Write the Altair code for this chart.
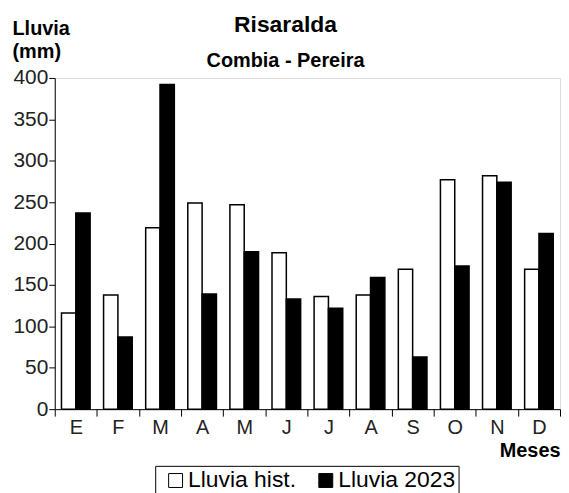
import altair as alt
import pandas as pd

meses = ["E", "F", "M", "A", "M", "J", "J", "A", "S", "O", "N", "D"]
lluvia_hist = [116, 138, 219, 249, 247, 189, 136, 138, 169, 277, 282, 169]
lluvia_2023 = [237, 87, 392, 139, 190, 133, 122, 159, 63, 173, 274, 212]
series = ["Lluvia hist.", "Lluvia 2023"]
y_ticks = [0, 50, 100, 150, 200, 250, 300, 350, 400]

rows = []
for i, m in enumerate(meses):
    rows.append({"idx": i, "serie": series[0], "valor": lluvia_hist[i]})
    rows.append({"idx": i, "serie": series[1], "valor": lluvia_2023[i]})
df = pd.DataFrame(rows)

label_expr = "[" + ",".join("'" + m + "'" for m in meses) + "][datum.value]"
FONT = "Liberation Sans"
W = 508

chart = alt.Chart(df).mark_bar(stroke="black", strokeWidth=1.5).encode(
    x=alt.X(
        "idx:O",
        scale=alt.Scale(paddingInner=0, paddingOuter=0),
        axis=alt.Axis(
            title="Meses",
            labelExpr=label_expr,
            labelAngle=0,
            labelFont=FONT,
            labelFontSize=20,
            labelColor="#222",
            labelPadding=1,
            tickBand="extent",
            tickSize=7,
            tickColor="black",
            domainColor="black",
            titleFont=FONT,
            titleFontSize=20,
            titleFontWeight="bold",
            titleColor="black",
            titleAlign="right",
            titleAnchor="end",
            titleX=W,
            titleY=48,
            titleBaseline="alphabetic",
        ),
    ),
    xOffset=alt.XOffset(
        "serie:N",
        sort=series,
        scale=alt.Scale(domain=series, paddingInner=0, paddingOuter=0.47),
    ),
    y=alt.Y(
        "valor:Q",
        scale=alt.Scale(domain=[0, 400], nice=False),
        axis=alt.Axis(
            values=y_ticks,
            grid=False,
            title=["Lluvia", "(mm)"],
            titleAngle=0,
            titleAlign="left",
            titleBaseline="top",
            titleX=-43,
            titleY=-60,
            titleFont=FONT,
            titleFontSize=20,
            titleFontWeight="bold",
            titleColor="black",
            titleLineHeight=23,
            labelFont=FONT,
            labelFontSize=21,
            labelColor="#222",
            labelPadding=1,
            tickSize=6,
            tickColor="black",
            domainColor="black",
        ),
    ),
    fill=alt.Fill(
        "serie:N",
        sort=series,
        scale=alt.Scale(domain=series, range=["white", "black"]),
        legend=alt.Legend(
            title=None,
            orient="none",
            legendX=101,
            legendY=390,
            direction="horizontal",
            symbolType="square",
            symbolSize=196,
            symbolStrokeColor="black",
            symbolStrokeWidth=1,
            symbolOffset=6,
            labelFont=FONT,
            labelFontSize=23,
            labelColor="black",
            labelOffset=1,
            columnPadding=12,
            padding=3,
            strokeColor="black",
            labelLimit=300,
        ),
    ),
).properties(
    width=W,
    height=333,
    title=alt.TitleParams(
        text="Risaralda",
        subtitle="Combia - Pereira",
        font=FONT,
        fontSize=23,
        fontWeight="bold",
        color="black",
        subtitleFont=FONT,
        subtitleFontSize=20,
        subtitleFontWeight="bold",
        subtitleColor="black",
        subtitlePadding=14,
        anchor="middle",
        dx=-22,
        offset=-53,
    ),
    padding={"left": 4, "top": 5, "right": 0, "bottom": 0},
).configure_view(stroke=None).configure(background="white")

chart.save("out.html", embed_options={"renderer": "svg", "actions": False})
